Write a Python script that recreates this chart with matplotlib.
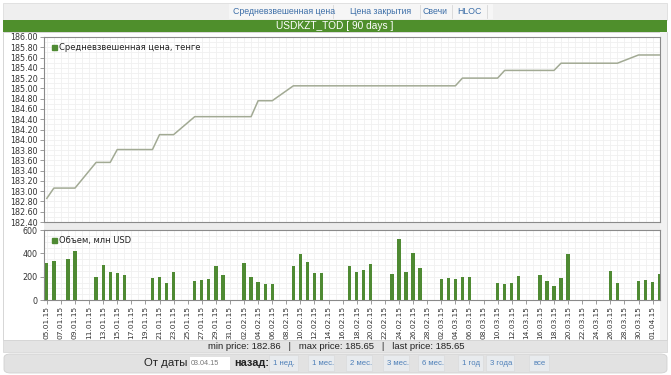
import matplotlib
matplotlib.use("Agg")
import matplotlib.pyplot as plt
import matplotlib.dates as mdates
import matplotlib.ticker as mticker
from matplotlib.patches import Rectangle, FancyBboxPatch
from matplotlib.lines import Line2D
import pandas as pd

plt.rcParams['font.family'] = ['DejaVu Sans']

# ---------------- data ----------------
dates = ["05.01.15", "06.01.15", "08.01.15", "09.01.15", "12.01.15", "13.01.15", "14.01.15",
         "15.01.15", "16.01.15", "20.01.15", "21.01.15", "22.01.15", "23.01.15", "26.01.15",
         "27.01.15", "28.01.15", "29.01.15", "30.01.15", "02.02.15", "03.02.15", "04.02.15",
         "05.02.15", "06.02.15", "09.02.15", "10.02.15", "11.02.15", "12.02.15", "13.02.15",
         "17.02.15", "18.02.15", "19.02.15", "20.02.15", "23.02.15", "24.02.15", "25.02.15",
         "26.02.15", "27.02.15", "02.03.15", "03.03.15", "04.03.15", "05.03.15", "06.03.15",
         "10.03.15", "11.03.15", "12.03.15", "13.03.15", "16.03.15", "17.03.15", "18.03.15",
         "19.03.15", "20.03.15", "26.03.15", "27.03.15", "30.03.15", "31.03.15", "01.04.15",
         "02.04.15"]
price = [182.86, 183.06, 183.06, 183.06, 183.56, 183.56, 183.56,
         183.81, 183.81, 183.81, 184.10, 184.10, 184.10, 184.45,
         184.45, 184.45, 184.45, 184.45, 184.45, 184.45, 184.76,
         184.76, 184.76, 185.05, 185.05, 185.05, 185.05, 185.05,
         185.05, 185.05, 185.05, 185.05, 185.05, 185.05, 185.05,
         185.05, 185.05, 185.05, 185.05, 185.05, 185.20, 185.20,
         185.20, 185.35, 185.35, 185.35, 185.35, 185.35, 185.35,
         185.49, 185.49, 185.49, 185.49, 185.65, 185.65, 185.65,
         185.65]
volume = [320, 334, 349, 420, 200, 297, 240,
          234, 211, 186, 197, 149, 243, 163,
          171, 177, 291, 214, 320, 197, 154,
          134, 134, 289, 391, 326, 234, 234,
          289, 240, 254, 311, 220, 526, 240,
          400, 277, 183, 191, 177, 197, 197,
          143, 134, 143, 206, 214, 163, 120,
          191, 391, 249, 143, 163, 169, 151,
          220]
price_ticks = [182.40, 182.60, 182.80, 183.00, 183.20, 183.40, 183.60, 183.80, 184.00,
               184.20, 184.40, 184.60, 184.80, 185.00, 185.20, 185.40, 185.60, 185.80, 186.00]
volume_ticks = [0, 200, 400, 600]
nav_links = ["Средневзвешенная цена", "Цена закрытия", "Свечи", "HLOC"]
period_links = ["1 нед.", "1 мес.", "2 мес.", "3 мес.", "6 мес.", "1 год", "3 года", "все"]
title = "USDKZT_TOD [ 90 days ]"
price_label = "Средневзвешенная цена, тенге"
volume_label = "Объем, млн USD"
stats_text = "min price: 182.86   |   max price: 185.65   |   last price: 185.65"
from_date = "03.04.15"

# ---------------- layout helpers ----------------
W, H = 671, 375
fig = plt.figure(figsize=(W / 100, H / 100), dpi=100)
fig.patch.set_facecolor('white')
SANS = ['Liberation Sans', 'DejaVu Sans']


def box(x0, y0, x1, y1):
    return [x0 / W, 1 - y1 / H, (x1 - x0) / W, (y1 - y0) / H]


def fx(x):
    return x / W


def fy(y):
    return 1 - y / H


def rect(x0, y0, x1, y1, z=-10, **kw):
    r = Rectangle((fx(x0), fy(y1)), (x1 - x0) / W, (y1 - y0) / H,
                  transform=fig.transFigure, figure=fig, zorder=z, **kw)
    fig.patches.append(r)


x = pd.to_datetime(dates, format="%d.%m.%y")
xn = mdates.date2num(x)
x0 = mdates.date2num(pd.Timestamp("2015-01-05")) - 0.4
x1 = mdates.date2num(pd.Timestamp("2015-04-02")) + 0.05

# ---------------- top navigation ----------------
rect(3, 3, 667, 20, facecolor='#efefef', edgecolor='#dddddd', lw=0.6)
rect(229, 4, 493, 19, z=-9, facecolor='#f6f6f6', edgecolor='none')
link_x = [284, 381, 435, 469]
for t, lx in zip(nav_links, link_x):
    fig.text(fx(lx), fy(12), t, ha='center', va='center', fontsize=6.3, color='#3d6fa8',
             family=SANS)
for sx in [333, 420, 452, 487]:
    fig.lines.append(Line2D([fx(sx), fx(sx)], [fy(5), fy(18)], transform=fig.transFigure,
                            color='#d8d8d8', lw=0.6))

# green title bar
rect(3, 20, 667, 32, z=-9, facecolor='#4f8f2c', edgecolor='none')
fig.text(fx(335), fy(26), title, ha='center', va='center', fontsize=7.3, color='white',
         family=SANS)

# chart background frame
rect(3, 32, 667, 340, z=-9, facecolor='white', edgecolor='#d0d0d0', lw=0.6)
rect(44, 222, 667, 230, z=-8, facecolor='#ececec', edgecolor='none')
rect(660, 32, 667, 340, z=-8, facecolor='#f2f2f2', edgecolor='none')

# ---------------- price axes ----------------
axp = fig.add_axes(box(44, 37, 660, 222))
axp.plot(xn, price, color='#a2aa94', lw=1.1, zorder=3)
axp.set_xlim(x0, x1)
axp.set_ylim(182.40, 186.00)
axp.set_yticks(price_ticks)
axp.set_yticklabels([f"{v:.2f}" for v in price_ticks])

# ---------------- volume axes ----------------
axv = fig.add_axes(box(44, 230, 660, 300))
axv.bar(xn, volume, width=0.47, color='#4f8a33', zorder=3)
axv.set_xlim(x0, x1)
axv.set_ylim(0, 600)
axv.set_yticks(volume_ticks)

tick_dates = pd.date_range("2015-01-05", "2015-04-01", freq="2D")
for ax in (axp, axv):
    ax.set_xticks(mdates.date2num(tick_dates))
    ax.xaxis.set_minor_locator(mdates.DayLocator())
    ax.grid(which='both', axis='x', color='#f0f0f0', lw=0.6, zorder=0)
    ax.grid(which='both', axis='y', color='#f0f0f0', lw=0.6, zorder=0)
    ax.set_axisbelow(True)
    for s in ax.spines.values():
        s.set_color('#8a8a8a')
        s.set_linewidth(0.8)
    ax.tick_params(axis='both', which='major', labelsize=5.8, length=3, width=0.6,
                   color='#8a8a8a', labelcolor='#333333', pad=1.5)
    ax.tick_params(axis='x', which='minor', length=0)
    ax.set_facecolor('white')

axp.yaxis.set_minor_locator(mticker.MultipleLocator(0.1))
axp.tick_params(axis='y', which='minor', length=0)
axp.tick_params(axis='x', which='major', labelbottom=False, length=0)
axv.yaxis.set_minor_locator(mticker.MultipleLocator(50))
axv.tick_params(axis='y', which='minor', length=0)
axv.tick_params(axis='x', which='major', labelsize=5.4, pad=1.2)
axv.set_xticklabels([d.strftime("%d.%m.%y") for d in tick_dates], rotation=90)

for ax, lab in ((axp, price_label), (axv, volume_label)):
    h = Line2D([], [], marker='s', color='#4f8a33', ls='none', markersize=3.6)
    lg = ax.legend([h], [lab], loc='upper left', frameon=False, fontsize=6.0,
                   handletextpad=0.25, borderaxespad=0.35, handlelength=0.8)
    for t in lg.get_texts():
        t.set_color('#222222')

# ---------------- bottom bars ----------------
rect(3, 340, 667, 352, z=-7, facecolor='#e4e4e4', edgecolor='#d4d4d4', lw=0.5)
fig.text(fx(336), fy(346.5), stats_text, ha='center', va='center', fontsize=6.8,
         color='#222222', family=SANS)

fig.patches.append(FancyBboxPatch((fx(4), fy(373)), 663 / W, 19 / H,
                                  boxstyle="round,pad=0,rounding_size=0.01",
                                  transform=fig.transFigure, figure=fig, zorder=-7,
                                  facecolor='#e2e2e2', edgecolor='#d0d0d0', lw=0.6))
fig.text(fx(144), fy(363), "От даты", ha='left', va='center', fontsize=8.2, color='#222222',
         family=SANS)
rect(189, 356, 230, 370, z=-6, facecolor='white', edgecolor='#dddddd', lw=0.5)
fig.text(fx(191), fy(363.5), from_date, ha='left', va='center', fontsize=5.2, color='#777777',
         family=SANS)
fig.text(fx(234), fy(363), "назад:", ha='left', va='center', fontsize=7.8, color='#222222',
         fontweight='bold', family=SANS)
period_x = [273, 312, 350, 387, 422, 462, 490, 533]
period_w = [21, 18, 18, 18, 18, 17, 20, 12]
for t, px_, pw in zip(period_links, period_x, period_w):
    rect(px_ - 4, 355, px_ + pw + 4, 371, z=-6, facecolor='#e8ebee', edgecolor='#d8d8d8', lw=0.4)
    fig.text(fx(px_), fy(363.5), t, ha='left', va='center', fontsize=5.6, color='#4d7fb8',
             family=SANS)

fig.savefig("out.png", dpi=100, facecolor=fig.get_facecolor())
